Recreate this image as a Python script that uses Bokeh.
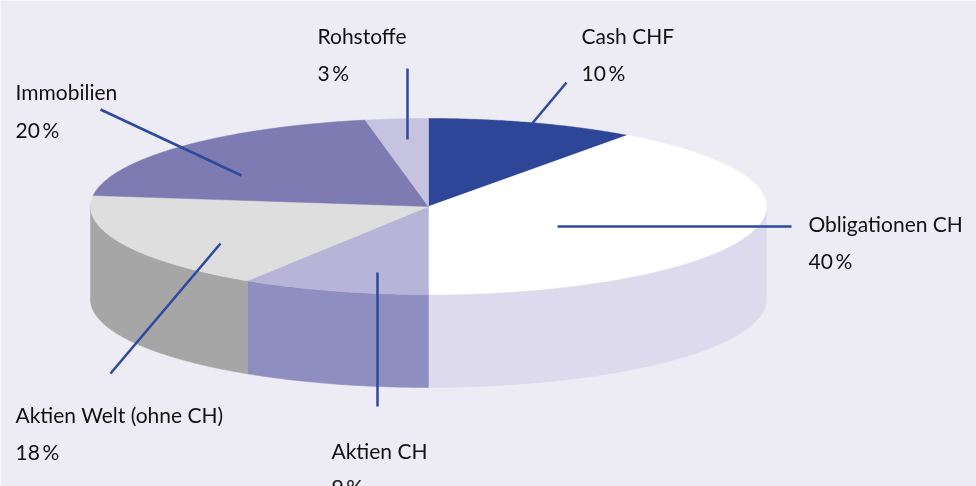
import math
from bokeh.plotting import figure
from bokeh.embed import file_html
from bokeh.resources import INLINE
from bokeh.core.properties import value

# Data
categories = ["Cash CHF", "Obligationen CH", "Aktien CH", "Aktien Welt (ohne CH)", "Immobilien", "Rohstoffe"]
shares = [10, 40, 9, 18, 20, 3]

# Styling
top_colors = ["#2E4698", "#FFFFFF", "#B8B4D8", "#DEDEDE", "#7E7BB3", "#C6C3E0"]
side_colors = ["#2E4698", "#DCDAEC", "#8F8EC1", "#A6A6A6", "#7E7BB3", "#C6C3E0"]
BG = "#EDECF5"
LINE = "#2E4A9E"
INK = "#111111"

# Layout (pixels of the 976x486 canvas)
CX, CY, RX, RY, DEPTH = 428.0, 206.0, 338.0, 88.0, 93.0
label_x = [581, 808, 331, 15, 15, 317]
name_y = [35, 223, 450, 414, 91, 35]
pct_y = [72, 260, 486, 451, 129, 72]
leader_a = [(566, 82), (791, 226), (377, 406), (110, 373), (100, 109), (407, 68)]
leader_b = [(530, 125), (557, 226), (377, 272), (220, 243), (241, 175), (407, 139)]
FONT = "Lato"
FONT_SIZE = "21px"


def rim(deg, drop=0.0):
    t = math.radians(deg)
    return CX + RX * math.sin(t), CY - RY * math.cos(t) + drop


def arc(a, b, drop=0.0):
    n = max(2, int(abs(b - a) * 2))
    return [rim(a + (b - a) * i / n, drop) for i in range(n + 1)]


W, H = 976, 486
p = figure(width=W, height=H, x_range=(0, W), y_range=(H, 0), output_backend="svg",
           toolbar_location=None, min_border=0, background_fill_color=BG,
           border_fill_color=BG, outline_line_color=None)
p.xaxis.visible = False
p.yaxis.visible = False
p.grid.visible = False
p.styles = {"position": "fixed", "left": "0", "top": "0"}

# sweep angles from the shares
starts, ends, acc = [], [], 0.0
for s in shares:
    starts.append(acc * 3.6)
    acc += s
    ends.append(acc * 3.6)

# side wall: only the front half of the rim shows
for a, b, c in zip(starts, ends, side_colors):
    lo, hi = max(a, 90.0), min(b, 270.0)
    if lo >= hi:
        continue
    pts = arc(lo, hi) + arc(hi, lo, DEPTH)
    p.patch([q[0] for q in pts], [q[1] for q in pts], fill_color=c, line_color=c, line_width=0.5)

# top face
for a, b, c in zip(starts, ends, top_colors):
    pts = [(CX, CY)] + arc(a, b)
    p.patch([q[0] for q in pts], [q[1] for q in pts], fill_color=c, line_color=c, line_width=0.5)

# leader lines
for u, v in zip(leader_a, leader_b):
    p.line([u[0], v[0]], [u[1], v[1]], line_color=LINE, line_width=2.5)

# labels
pcts = [f"{s}\u2009%" for s in shares]
for texts, ys in ((categories, name_y), (pcts, pct_y)):
    p.text(x=label_x, y=ys, text=texts, text_font=value(FONT), text_font_size=value(FONT_SIZE),
           text_color=INK, text_align="left", text_baseline="alphabetic")

open("out.html", "w").write(file_html(p, INLINE))
